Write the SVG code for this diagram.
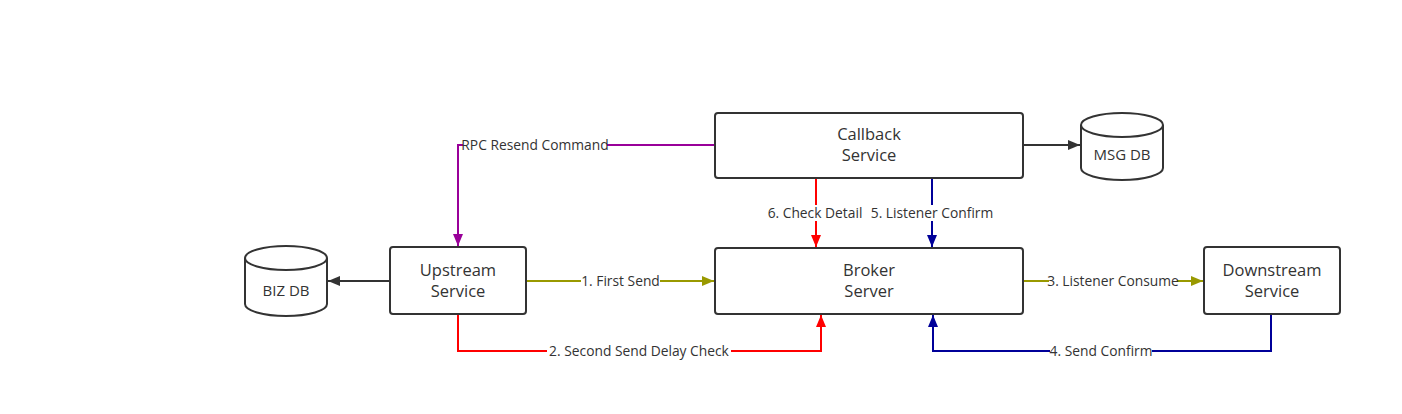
<svg xmlns="http://www.w3.org/2000/svg" width="1402" height="414" viewBox="0 0 1402 414">
<style>
.box{fill:#fff;stroke:#333;stroke-width:2}
.nt{font-family:"Open Sans","Noto Sans",sans-serif;font-size:16.5px;fill:#333;text-anchor:middle}
.lt{font-family:"Open Sans","Noto Sans",sans-serif;font-size:13.8px;fill:#333;text-anchor:middle}
.c{fill:none;stroke-width:2}
.lb{fill:#fff}
</style>
<defs>
<marker id="aK" viewBox="0 0 12 10" refX="12" refY="5" markerWidth="12" markerHeight="10" markerUnits="userSpaceOnUse" orient="auto"><path d="M0,0L12,5L0,10z" fill="#333"/></marker>
<marker id="aO" viewBox="0 0 12 10" refX="12" refY="5" markerWidth="12" markerHeight="10" markerUnits="userSpaceOnUse" orient="auto"><path d="M0,0L12,5L0,10z" fill="#999900"/></marker>
<marker id="aR" viewBox="0 0 12 10" refX="12" refY="5" markerWidth="12" markerHeight="10" markerUnits="userSpaceOnUse" orient="auto"><path d="M0,0L12,5L0,10z" fill="#ff0000"/></marker>
<marker id="aB" viewBox="0 0 12 10" refX="12" refY="5" markerWidth="12" markerHeight="10" markerUnits="userSpaceOnUse" orient="auto"><path d="M0,0L12,5L0,10z" fill="#000099"/></marker>
<marker id="aP" viewBox="0 0 12 10" refX="12" refY="5" markerWidth="12" markerHeight="10" markerUnits="userSpaceOnUse" orient="auto"><path d="M0,0L12,5L0,10z" fill="#990099"/></marker>
</defs>
<rect width="1402" height="414" fill="#fff"/>
<g id="connectors">
<path class="c" stroke="#990099" d="M715,145H458V246" marker-end="url(#aP)"/>
<path class="c" stroke="#333" d="M390,281H328" marker-end="url(#aK)"/>
<path class="c" stroke="#999900" d="M526,281H714" marker-end="url(#aO)"/>
<path class="c" stroke="#ff0000" d="M458,314V351H821V315" marker-end="url(#aR)"/>
<path class="c" stroke="#ff0000" d="M816,178V247" marker-end="url(#aR)"/>
<path class="c" stroke="#000099" d="M932,178V247" marker-end="url(#aB)"/>
<path class="c" stroke="#999900" d="M1023,281H1203" marker-end="url(#aO)"/>
<path class="c" stroke="#000099" d="M1271,314V351H933V315" marker-end="url(#aB)"/>
<path class="c" stroke="#333" d="M1023,145H1080" marker-end="url(#aK)"/>
<rect class="lb" x="463" y="137" width="144" height="16"/>
<text class="lt" x="535" y="150">RPC Resend Command</text>
<rect class="lb" x="581" y="273" width="79" height="16"/>
<text class="lt" x="620.5" y="286">1. First Send</text>
<rect class="lb" x="547" y="343" width="184" height="16"/>
<text class="lt" x="639" y="356">2. Second Send Delay Check</text>
<rect class="lb" x="766" y="205" width="98" height="16"/>
<text class="lt" x="815" y="218">6. Check Detail</text>
<rect class="lb" x="871" y="205" width="122" height="16"/>
<text class="lt" x="932" y="218">5. Listener Confirm</text>
<rect class="lb" x="1049" y="273" width="128" height="16"/>
<text class="lt" x="1113" y="286">3. Listener Consume</text>
<rect class="lb" x="1050" y="343" width="102" height="16"/>
<text class="lt" x="1101" y="356">4. Send Confirm</text>
</g>
<g id="callback">
<rect class="box" x="715" y="113" width="308" height="65" rx="3"/>
<text class="nt" x="869" y="140">Callback</text>
<text class="nt" x="869" y="161">Service</text>
</g>
<g id="broker">
<rect class="box" x="715" y="248" width="308" height="66" rx="3"/>
<text class="nt" x="869" y="276">Broker</text>
<text class="nt" x="869" y="297">Server</text>
</g>
<g id="upstream">
<rect class="box" x="390" y="247" width="136" height="67" rx="3"/>
<text class="nt" x="458" y="276">Upstream</text>
<text class="nt" x="458" y="297">Service</text>
</g>
<g id="downstream">
<rect class="box" x="1204" y="247" width="136" height="67" rx="3"/>
<text class="nt" x="1272" y="276">Downstream</text>
<text class="nt" x="1272" y="297">Service</text>
</g>
<g id="bizdb">
<path class="box" d="M245,258V304A41,12 0 0 0 327,304V258A41,12 0 0 0 245,258Z"/>
<path fill="none" stroke="#333" stroke-width="2" d="M245,258A41,12 0 0 0 327,258"/>
<text class="lt" x="286" y="296" style="font-size:15px">BIZ DB</text>
</g>
<g id="msgdb">
<path class="box" d="M1081,125V168A41,12 0 0 0 1163,168V125A41,12 0 0 0 1081,125Z"/>
<path fill="none" stroke="#333" stroke-width="2" d="M1081,125A41,12 0 0 0 1163,125"/>
<text class="lt" x="1122" y="160" style="font-size:15px">MSG DB</text>
</g>
</svg>
